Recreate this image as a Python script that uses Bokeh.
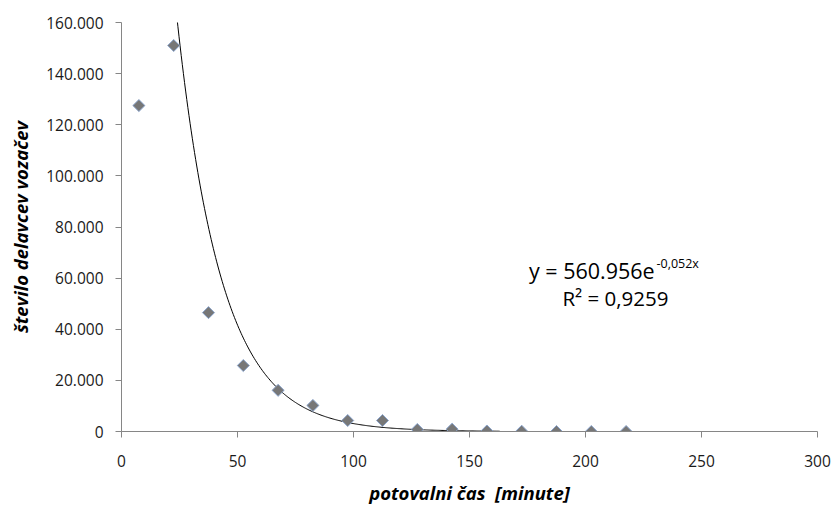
import numpy as np
from bokeh.plotting import figure
from bokeh.models import FixedTicker, Label, ColumnDataSource
from bokeh.embed import file_html
from bokeh.resources import INLINE

# Data
travel_time = [7.5, 22.5, 37.5, 52.5, 67.5, 82.5, 97.5, 112.5, 127.5, 142.5,
               157.5, 172.5, 187.5, 202.5, 217.5]
commuters = [127500, 151000, 46500, 25800, 16100, 10200, 4300, 4300, 800, 900,
             200, 100, 0, 0, 0]

# Exponential trendline parameters (as shown on the chart)
trend_a = 560956
trend_b = -0.052
trend_x_start = 20
trend_x_end = 163

x_ticks = [0, 50, 100, 150, 200, 250, 300]
y_ticks = [0, 20000, 40000, 60000, 80000, 100000, 120000, 140000, 160000]
y_tick_labels = ["0", "20.000", "40.000", "60.000", "80.000", "100.000",
                 "120.000", "140.000", "160.000"]

FONT = "Open Sans"

p = figure(width=833, height=507, output_backend="svg", toolbar_location=None,
           x_range=(0, 300), y_range=(0, 160000))
p.min_border_left = 121
p.min_border_right = 16
p.min_border_top = 22
p.min_border_bottom = 76
p.outline_line_color = None
p.xgrid.visible = False
p.ygrid.visible = False
p.background_fill_color = "white"
p.border_fill_color = "white"

# trendline
tx = np.linspace(trend_x_start, trend_x_end, 300)
ty = trend_a * np.exp(trend_b * tx)
p.line(tx, ty, line_color="#000000", line_width=1)

# markers
src = ColumnDataSource(dict(x=travel_time, y=commuters))
p.scatter("x", "y", source=src, marker="square", size=8.5, angle=np.pi / 4,
          fill_color="#777777", line_color="#8aa4cc", line_width=1)

for ax in (p.xaxis[0], p.yaxis[0]):
    ax.axis_line_color = "#868686"
    ax.major_tick_line_color = "#868686"
    ax.minor_tick_line_color = None
    ax.major_tick_in = 0
    ax.major_tick_out = 6
    ax.major_label_text_font = FONT
    ax.major_label_text_font_size = "15.5px"
    ax.major_label_text_color = "#1a1a1a"
    ax.axis_label_text_font = FONT
    ax.axis_label_text_font_size = "18.5px"
    ax.axis_label_text_font_style = "bold italic"
    ax.axis_label_text_color = "#000000"

p.xaxis.ticker = FixedTicker(ticks=x_ticks)
p.yaxis.ticker = FixedTicker(ticks=y_ticks)
p.yaxis.major_label_overrides = {t: l for t, l in zip(y_ticks, y_tick_labels)}
p.xaxis.major_label_standoff = 17
p.yaxis.major_label_standoff = 12
p.xaxis.axis_label = "potovalni čas\u00a0 [minute]"
p.yaxis.axis_label = "število delavcev vozačev"
p.xaxis.axis_label_standoff = 10
p.yaxis.axis_label_standoff = 10

# trendline equation annotation
p.add_layout(Label(x=229.8, y=63000, text="y = 560.956e", text_align="right",
                   text_baseline="alphabetic", text_font=FONT,
                   text_font_size="21.5px", text_color="#000000"))
p.add_layout(Label(x=230.6, y=65700, text="-0,052x", text_align="left",
                   text_baseline="alphabetic", text_font=FONT,
                   text_font_size="12.5px", text_color="#000000"))
p.add_layout(Label(x=212.9, y=52400, text="R² = 0,9259", text_align="center",
                   text_baseline="alphabetic", text_font=FONT,
                   text_font_size="20.5px", text_color="#000000"))

open("out.html", "w").write(file_html(p, INLINE))
